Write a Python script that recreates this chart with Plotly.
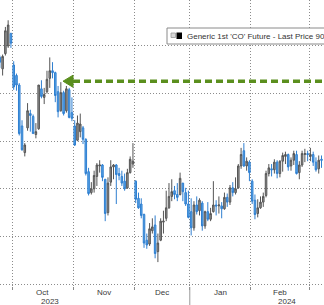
import pandas as pd
import plotly.graph_objects as go

# ---- data (Generic 1st 'CO' Future, daily OHLC) ----
dates = [d.strftime("%Y-%m-%d") for d in pd.bdate_range("2023-09-25", "2024-03-07")
         if d.strftime("%Y-%m-%d") not in ("2023-12-25", "2024-01-01")]

opens = [
    93.8, 92.6, 94.2, 95.0, 96.3,
    93.0, 91.9, 90.9, 86.6, 83.8, 86.4, 87.9, 87.6, 85.7, 86.3, 90.5, 89.6, 90.2, 91.6, 92.4, 92.2, 90.2, 88.2, 90.1, 88.2, 90.4, 88.0,
    86.6, 85.1, 86.0, 86.4, 85.2, 81.8, 79.6, 80.0, 81.3, 82.4, 82.5, 81.0, 77.5, 80.7, 82.3, 82.5, 81.6, 81.3, 80.8, 80.1, 81.7, 82.6,
    80.8, 79.0, 78.4, 77.3, 74.6, 74.2, 75.6, 76.2, 73.4, 74.6, 76.5, 76.9, 78.0, 79.2, 79.8, 79.4, 79.4, 80.6, 79.6, 78.4,
    77.6, 75.9, 78.3, 77.7, 78.5, 76.1, 77.6, 76.8, 77.6, 78.3, 78.2, 78.2, 77.9, 79.1, 78.6, 80.1, 79.6, 80.1, 82.4, 84.0, 82.4, 82.8,
    80.8, 78.8, 77.4, 78.0, 78.6, 79.3, 81.6, 82.1, 82.0, 82.8, 81.6, 82.9, 83.4, 83.6, 82.4, 83.0, 83.6, 81.7, 82.5, 83.6, 83.7,
    83.4, 83.6, 82.8, 82.1, 83.1]
highs = [
    94.0, 94.1, 97.0, 97.7, 96.4,
    93.4, 92.1, 91.1, 87.2, 84.8, 89.0, 88.3, 87.8, 86.9, 90.9, 91.4, 90.6, 92.4, 93.8, 93.3, 92.3, 90.8, 91.2, 90.3, 90.8, 90.6, 89.6,
    87.2, 87.7, 87.9, 86.6, 85.3, 82.2, 80.7, 81.9, 82.7, 83.0, 82.6, 81.0, 81.2, 83.0, 82.6, 82.6, 82.2, 81.9, 81.6, 82.1, 83.4, 84.8,
    80.9, 79.6, 79.0, 77.4, 75.3, 76.4, 76.9, 77.2, 75.3, 76.9, 77.7, 79.8, 80.6, 81.0, 80.3, 80.6, 81.7, 80.6, 80.1, 79.8,
    79.0, 78.7, 79.2, 79.0, 78.7, 77.7, 78.6, 78.0, 80.8, 78.8, 79.2, 78.6, 79.6, 79.5, 80.4, 80.7, 81.2, 82.6, 84.3, 84.8, 83.3, 83.0,
    81.0, 79.4, 78.9, 79.2, 79.6, 81.9, 82.6, 82.6, 83.1, 83.0, 83.0, 83.8, 83.9, 83.7, 83.3, 84.0, 84.0, 82.9, 84.0, 84.2, 84.0,
    84.3, 83.9, 83.3, 83.5, 83.5]
lows = [
    92.7, 91.9, 94.0, 94.8, 94.8,
    90.4, 90.3, 85.6, 84.0, 83.4, 86.1, 86.0, 85.8, 85.3, 86.2, 89.5, 88.9, 90.0, 90.6, 91.6, 89.1, 87.5, 88.1, 87.7, 88.0, 87.4, 87.1,
    84.5, 85.0, 85.4, 84.7, 81.4, 79.3, 79.4, 79.6, 80.3, 81.7, 80.8, 76.6, 77.2, 80.3, 81.0, 78.4, 80.9, 80.3, 79.8, 80.0, 81.6, 82.2,
    78.5, 77.9, 76.9, 73.8, 73.7, 74.0, 75.3, 72.7, 72.3, 74.5, 75.3, 76.6, 77.9, 78.7, 78.9, 78.7, 79.3, 78.7, 78.2, 76.9,
    75.1, 75.6, 77.3, 77.2, 75.6, 75.8, 76.6, 76.6, 77.5, 77.2, 77.4, 76.9, 77.8, 78.1, 78.3, 79.2, 79.4, 80.0, 82.1, 82.3, 81.9, 80.8,
    78.4, 76.8, 77.0, 77.9, 78.1, 79.1, 81.3, 81.3, 81.6, 81.1, 81.2, 81.8, 82.6, 81.9, 81.9, 82.5, 81.5, 81.0, 82.3, 82.8, 82.9,
    82.9, 82.4, 81.8, 81.6, 82.2]
closes = [
    93.3, 93.9, 96.6, 97.2, 95.3,
    90.7, 90.9, 85.8, 84.1, 84.6, 88.2, 87.7, 85.8, 86.0, 90.9, 89.7, 89.9, 91.5, 92.4, 92.2, 89.8, 88.1, 90.1, 87.9, 90.5, 87.5, 87.4,
    84.6, 86.9, 86.8, 85.2, 81.6, 79.5, 80.0, 81.4, 82.5, 82.5, 81.2, 77.4, 80.6, 82.3, 82.5, 81.5, 81.4, 80.6, 80.0, 81.7, 83.1, 82.9,
    78.9, 78.0, 77.2, 74.3, 74.1, 75.8, 76.0, 73.2, 74.3, 76.6, 76.6, 78.0, 79.2, 79.7, 79.4, 79.1, 81.1, 79.7, 78.4, 77.0,
    75.9, 78.3, 77.6, 78.8, 76.1, 77.6, 76.8, 77.4, 78.3, 78.2, 78.3, 77.9, 79.1, 78.6, 80.1, 79.6, 80.0, 82.4, 83.6, 82.4, 82.9, 81.7,
    78.7, 77.3, 78.0, 78.6, 79.2, 81.6, 82.2, 82.0, 82.8, 81.6, 82.9, 83.5, 83.6, 82.3, 83.0, 83.7, 81.6, 82.5, 83.7, 83.7, 83.6,
    83.6, 82.8, 82.0, 83.0, 83.0]

price_gridlines = [70, 75, 80, 85, 90, 95]
month_labels = ["Oct", "Nov", "Dec", "Jan", "Feb"]
year_labels = ["2023", "2024"]
arrow_price = 91.3
legend_text = "Generic 1st 'CO' Future - Last Price 90"

# ---- layout helpers ----
W, H, B = 324, 305, 19
PH = H - B
origin = dates.index("2023-10-02")
xs = [i - origin for i in range(len(dates))]
months = [d[:7] for d in dates]
month_starts = [xs[i] for i in range(1, len(dates)) if months[i] != months[i - 1]]
boundaries = [s - 0.5 for s in month_starts]
XR = [-4.94, 111.9]
YR = [69.79, 99.83]
GRID = "#8c8c8c"
GRID_DASH = "1px,2px"

def px_to_x(px):
    return XR[0] + px / W * (XR[1] - XR[0])

def py_paper(py):
    return 1 - py / PH

fig = go.Figure()
fig.add_trace(go.Candlestick(
    x=xs, open=opens, high=highs, low=lows, close=closes,
    increasing=dict(line=dict(color="#555555", width=1), fillcolor="#969696"),
    decreasing=dict(line=dict(color="#2f7fd0", width=1), fillcolor="#5aa6e8"),
    whiskerwidth=0, hoverinfo="skip", showlegend=False,
))

ann = []
month_keys = sorted(set(months))[1:-1]
for key, lab in zip(month_keys, month_labels):
    idx = [x for x, m in zip(xs, months) if m == key]
    mid = (idx[0] + idx[-1]) / 2
    ann.append(dict(x=mid, y=py_paper(292), xref="x", yref="paper", text=lab,
                    showarrow=False, font=dict(size=8, color="#3a3a3a"),
                    xanchor="center", yanchor="middle"))
    if lab in ("Oct", "Feb"):
        ann.append(dict(x=mid + 2.5, y=py_paper(301), xref="x", yref="paper",
                        text=year_labels[0] if lab == "Oct" else year_labels[1],
                        showarrow=False, font=dict(size=8, color="#3a3a3a"),
                        xanchor="center", yanchor="middle"))

ann.append(dict(x=185 / W, y=py_paper(36.5), xref="paper", yref="paper", text=legend_text,
                showarrow=False, font=dict(size=8, color="#333333"),
                xanchor="left", yanchor="middle"))

shapes = []
jan_b = boundaries[3]
shapes.append(dict(type="line", xref="x", yref="paper", x0=jan_b, x1=jan_b,
                   y0=py_paper(287), y1=py_paper(305), line=dict(color="#9a9a9a", width=1)))
tip = px_to_x(63)
base = px_to_x(73)
half = 6 / PH * (YR[1] - YR[0])
shapes.append(dict(type="line", xref="x", yref="y", x0=base, x1=XR[1] + 5,
                   y0=arrow_price, y1=arrow_price,
                   line=dict(color="#5b8f1e", width=3.5, dash="7px,4px")))
shapes.append(dict(type="path", xref="x", yref="y",
                   path=f"M {tip},{arrow_price} L {base},{arrow_price + half} L {base},{arrow_price - half} Z",
                   fillcolor="#5b8f1e", line=dict(color="#5b8f1e", width=1)))
shapes.append(dict(type="rect", xref="paper", yref="paper", x0=167 / W, x1=1.1,
                   y0=py_paper(44), y1=py_paper(28), fillcolor="white",
                   line=dict(color="#8a8a8a", width=1), layer="above"))
shapes.append(dict(type="rect", xref="paper", yref="paper", x0=171 / W, x1=175.5 / W,
                   y0=py_paper(37.5), y1=py_paper(33), fillcolor="#d8d8d8",
                   line=dict(color="#9a9a9a", width=0.8), layer="above"))
shapes.append(dict(type="rect", xref="paper", yref="paper", x0=176.5 / W, x1=182 / W,
                   y0=py_paper(39), y1=py_paper(32.5), fillcolor="#000000",
                   line=dict(color="#000000", width=0), layer="above"))

fig.update_layout(
    width=W, height=H,
    margin=dict(l=0, r=0, t=0, b=B, pad=0),
    paper_bgcolor="white", plot_bgcolor="white",
    font=dict(family="Liberation Sans, Arial, sans-serif", size=8, color="#333333"),
    showlegend=False, boxgap=0.2,
    annotations=ann, shapes=shapes,
    xaxis=dict(range=XR, rangeslider=dict(visible=False), tickmode="array",
               tickvals=boundaries, showticklabels=False, ticks="outside",
               ticklen=3, tickcolor="#8a8a8a", tickwidth=1,
               showgrid=True, gridcolor=GRID, griddash=GRID_DASH, gridwidth=1,
               zeroline=False, showline=False, fixedrange=True),
    yaxis=dict(range=YR, tickmode="array", tickvals=price_gridlines,
               showticklabels=False, ticks="", showgrid=True,
               gridcolor=GRID, griddash=GRID_DASH, gridwidth=1,
               zeroline=False, showline=False, fixedrange=True),
)

fig.write_html("out.html", config={"displayModeBar": False})
